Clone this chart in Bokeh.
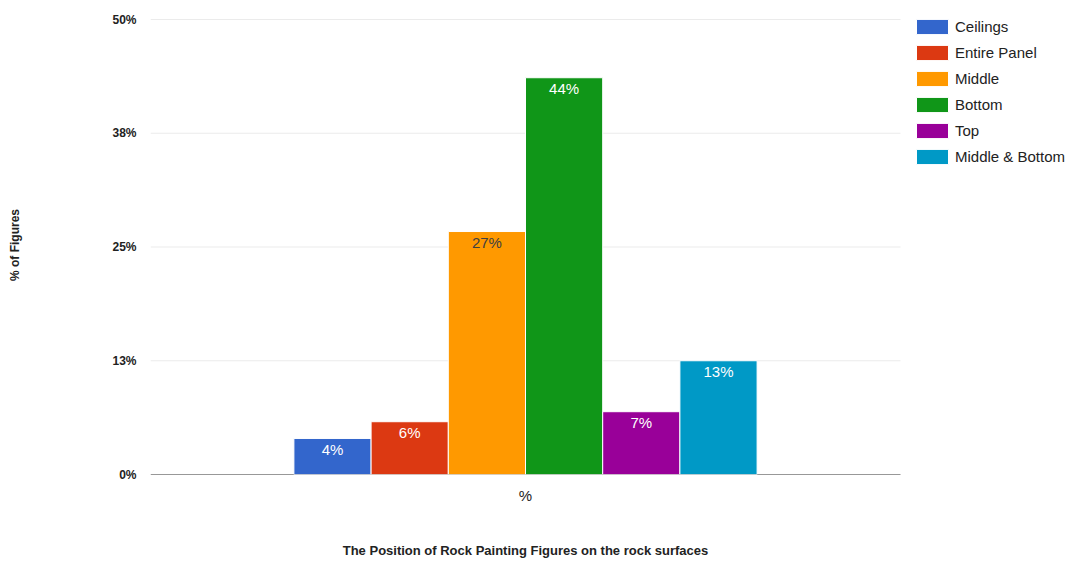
from bokeh.plotting import figure
from bokeh.models import Range1d, FixedTicker, Legend, LegendItem, ColumnDataSource, LinearAxis
from bokeh.core.properties import value
from bokeh.embed import file_html
from bokeh.resources import INLINE

# ---- data ----
categories = ["Ceilings", "Entire Panel", "Middle", "Bottom", "Top", "Middle & Bottom"]
values = [3.96, 5.8, 26.7, 43.6, 6.9, 12.5]
value_labels = ["4%", "6%", "27%", "44%", "7%", "13%"]
colors = ["#3366cc", "#dc3912", "#ff9900", "#109618", "#990099", "#0099c6"]
label_colors = ["#ffffff", "#ffffff", "#404040", "#ffffff", "#ffffff", "#ffffff"]
y_ticks = [0, 12.5, 25, 37.5, 50]
y_tick_labels = ["0%", "13%", "25%", "38%", "50%"]
x_group_label = "%"
chart_title = "The Position of Rock Painting Figures on the rock surfaces"

FONT = "Liberation Sans"

# plot area is 750x455 px; extra room right (legend) and 4px on top
PLOT_W = 750
PLOT_H = 455
EXTRA_W = 166
EXTRA_TOP = 4
y_max = y_ticks[-1]
p = figure(width=1066, height=560, output_backend="svg", toolbar_location=None,
           x_range=Range1d(0, 1 + EXTRA_W / PLOT_W),
           y_range=Range1d(0, y_max * (PLOT_H + EXTRA_TOP) / PLOT_H))
p.min_border_left = 150
p.min_border_right = 0
p.min_border_top = 15
p.min_border_bottom = 86
p.outline_line_color = None
p.background_fill_color = "white"
p.border_fill_color = "white"

# gridlines and baseline limited to the plot area
p.segment(x0=[0] * (len(y_ticks) - 1), x1=[1] * (len(y_ticks) - 1),
          y0=y_ticks[1:], y1=y_ticks[1:], line_color="#ebebeb", line_width=1)
p.segment(x0=[0], x1=[1], y0=[0], y1=[0], line_color="#333333", line_width=1)

n = len(categories)
bar_w = 77.2 / PLOT_W
items = []
for i, (cat, v, c) in enumerate(zip(categories, values, colors)):
    xc = 0.5 + (i - (n - 1) / 2) * bar_w
    src = ColumnDataSource(dict(x=[xc], top=[v], lab=[value_labels[i]]))
    r = p.vbar(x="x", top="top", bottom=0, width=bar_w, source=src,
               fill_color=c, line_color="white", line_width=1)
    items.append(LegendItem(label=cat, renderers=[r]))
    p.text(x="x", y="top", text="lab", source=src, text_align="center",
           text_baseline="middle", y_offset=11, text_color=label_colors[i],
           text_font=value(FONT), text_font_size="15px")

# axes
p.yaxis.ticker = FixedTicker(ticks=y_ticks)
p.yaxis.major_label_overrides = {t: l for t, l in zip(y_ticks, y_tick_labels)}
p.yaxis.axis_line_color = None
p.yaxis.major_tick_line_color = None
p.yaxis.minor_tick_line_color = None
p.yaxis.major_tick_out = 0
p.yaxis.major_label_standoff = 14
p.yaxis.major_label_text_font = FONT
p.yaxis.major_label_text_font_style = "bold"
p.yaxis.major_label_text_font_size = "12px"
p.yaxis.major_label_text_color = "#222222"
p.yaxis.axis_label = "% of Figures"
p.yaxis.axis_label_text_font = FONT
p.yaxis.axis_label_text_font_style = "bold"
p.yaxis.axis_label_text_font_size = "12px"
p.yaxis.axis_label_text_color = "#222222"
p.yaxis.axis_label_standoff = 87

p.xaxis.ticker = FixedTicker(ticks=[0.5])
p.xaxis.major_label_overrides = {0.5: x_group_label}
p.xaxis.axis_line_color = None
p.xaxis.major_tick_line_color = None
p.xaxis.minor_tick_line_color = None
p.xaxis.major_tick_out = 0
p.xaxis.major_label_standoff = 12
p.xaxis.major_label_text_font = FONT
p.xaxis.major_label_text_font_size = "15px"
p.xaxis.major_label_text_color = "#222222"

# chart title, centred under the plot area, as the label of a second bottom axis
title_axis = LinearAxis(ticker=FixedTicker(ticks=[0.5]),
                        major_label_overrides={0.5: chart_title})
title_axis.axis_line_color = None
title_axis.major_tick_line_color = None
title_axis.minor_tick_line_color = None
title_axis.major_tick_out = 0
title_axis.major_label_standoff = 36
title_axis.major_label_text_font = FONT
title_axis.major_label_text_font_style = "bold"
title_axis.major_label_text_font_size = "13px"
title_axis.major_label_text_color = "#222222"
p.add_layout(title_axis, "below")

p.xgrid.grid_line_color = None
p.ygrid.grid_line_color = None

legend = Legend(items=items, location=(PLOT_W + 12, 308.5))
legend.padding = 0
legend.margin = 0
legend.spacing = 7
legend.glyph_width = 40
legend.glyph_height = 19
legend.label_height = 19
legend.label_standoff = 3
legend.label_text_font = FONT
legend.label_text_font_size = "15px"
legend.label_text_color = "#222222"
legend.border_line_color = None
legend.background_fill_alpha = 0
p.add_layout(legend, "center")

open("out.html", "w").write(file_html(p, INLINE))
